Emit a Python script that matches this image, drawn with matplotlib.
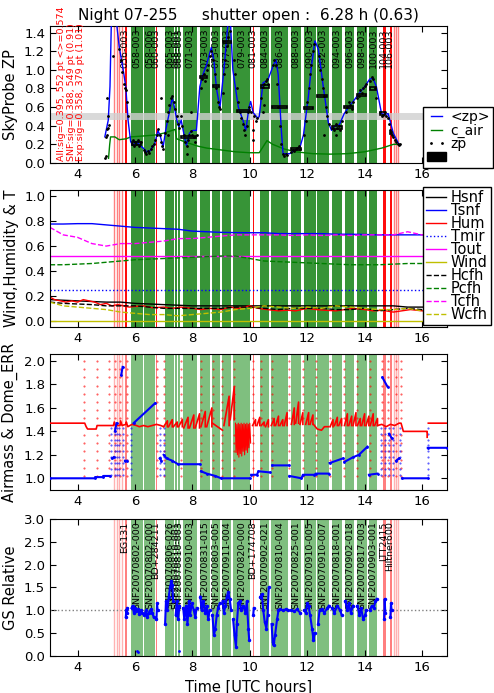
import numpy as np
import matplotlib.pyplot as plt
from matplotlib.lines import Line2D
from matplotlib.patches import Patch, Rectangle

nan = np.nan

# science exposures (UTC hours)
exp_start = [5.85, 6.32, 7.04, 7.41, 7.50, 7.66, 8.26, 8.69, 9.04, 9.42, 10.35, 10.74,
             11.42, 11.88, 12.35, 12.85, 13.31, 13.72, 14.16]
exp_end = [6.27, 6.69, 7.36, 7.47, 7.57, 8.17, 8.62, 8.98, 9.35, 10.00, 10.68, 11.34,
           11.80, 12.30, 12.77, 13.23, 13.64, 14.07, 14.44]
exp_names = ["058-003", "058-006", "065-003", "068-001", "068-003", "071-003", "073-003",
             "075-003", "077-003", "079-003", "084-003", "086-003", "088-003", "090-003",
             "092-003", "094-003", "096-003", "098-003", "100-003"]
exp_targets = ["SNF20070802-000", "SNF20070802-000", "SNF20070806-026", "SNF20070810-001",
               "SNF20070810-003", "SNF20070910-003", "SNF20070831-015", "SNF20070803-005",
               "SNF20070911-004", "SNF20070820-000", "SNF20070902-021", "SNF20070810-004",
               "SNF20070825-001", "SNF20070910-005", "SNF20070910-007", "SNF20070818-001",
               "SNF20070902-018", "SNF20070817-003", "SNF20070903-001"]

# standard stars
std_start = [5.64, 6.73, 10.10, 14.65, 14.88]
std_end = [5.73, 6.78, 10.16, 14.74, 14.94]
std_names = ["056-003", "060-003", "081-003", "104-003", "106-003"]
std_targets = ["EG131", "BD+284211", "BD+174708", "LTT2415", "Hiltner600"]
acq_times = [5.27, 5.36, 5.45, 5.54, 15.03, 15.10, 15.17]

# SkyProbe zero point
zpm_t = [4.95, 5.07, 5.13, 5.18, 5.36, 5.45, 5.59, 5.68, 5.76, 5.85, 5.92, 6.06, 6.17, 6.29,
         6.41, 6.52, 6.69, 6.80, 6.89, 6.98, 7.07, 7.19, 7.30, 7.38, 7.46, 7.53, 7.61, 7.70,
         7.79, 7.90, 8.02, 8.14, 8.26, 8.37, 8.49, 8.66, 8.75, 8.84, 8.96, 9.10, 9.24, 9.32,
         9.41, 9.60, 9.76, 9.86, 9.97, 10.03, 10.12, 10.28, 10.33, 10.46, 10.63, 10.81, 10.91,
         10.99, 11.10, 11.16, 11.39, 11.75, 11.87, 12.04, 12.15, 12.27, 12.39, 12.56, 12.74,
         12.85, 12.94, 13.12, 13.29, 13.47, 13.65, 13.82, 14.00, 14.18, 14.29, 14.41, 14.59,
         14.70, 14.82, 15.00, 15.18, 15.24]
zpm_v = [0.28, 0.46, 0.82, 1.55, 1.50, 1.25, 1.00, 0.82, 0.46, 0.23, 0.19, 0.23, 0.19, 0.16,
         0.12, 0.13, 0.21, 0.35, 0.28, 0.17, 0.35, 0.53, 0.70, 0.59, 0.46, 0.39, 0.46, 0.32,
         0.19, 0.32, 0.35, 0.35, 0.82, 0.95, 1.05, 1.24, 1.10, 0.80, 0.59, 1.00, 1.50, 1.55,
         1.00, 0.60, 0.46, 0.35, 0.59, 0.66, 0.54, 0.48, 0.50, 0.86, 0.89, 1.04, 1.11,
         0.95, 0.35, 0.10, 0.10, 0.17, 0.30, 0.71, 1.04, 1.31, 1.22, 0.82, 0.43,
         0.35, 0.39, 0.41, 0.53, 0.61, 0.68, 0.75, 0.82, 0.90, 0.91, 0.82, 0.53,
         0.52, 0.53, 0.32, 0.21, 0.19]

zp_t = [4.97, 4.99, 5.00, 5.02, 5.04, 5.06, 5.08, 5.05, 5.04, 5.25, 5.45, 5.50, 5.56, 5.62,
        5.66, 5.70, 5.73, 5.76, 5.88, 5.92, 5.95, 6.00, 6.05, 6.10, 6.15, 6.20, 6.30, 6.35,
        6.40, 6.45, 6.50, 6.55, 6.60, 6.65, 6.70, 6.78, 6.82, 6.88, 6.92, 6.95, 6.97, 6.89,
        7.05, 7.10, 7.15, 7.20, 7.25, 7.30, 7.35, 7.38, 7.15, 7.45, 7.50, 7.55, 7.60, 7.65,
        7.70, 7.75, 7.80, 7.85, 7.90, 7.95, 8.00, 8.05, 8.10, 8.15, 7.80, 7.95, 8.30, 8.35,
        8.40, 8.45, 8.50, 8.55, 8.60, 8.65, 8.72, 8.78, 8.83, 8.88, 8.92, 8.95, 9.05, 9.10,
        9.15, 9.20, 9.25, 9.30, 9.45, 9.50, 9.55, 9.60, 9.65, 9.70, 9.75, 9.80, 9.85, 9.90,
        9.95, 9.98, 10.05, 10.10, 10.12, 10.15, 10.20, 10.25, 10.40, 10.45, 10.50, 10.55,
        10.60, 10.65, 10.45, 10.50, 10.80, 10.85, 10.90, 10.95, 11.00, 11.05, 11.10, 11.15,
        11.20, 11.25, 11.30, 11.45, 11.50, 11.55, 11.60, 11.65, 11.70, 11.75, 11.90, 11.95,
        12.00, 12.05, 12.10, 12.15, 12.20, 12.25, 12.40, 12.45, 12.50, 12.55, 12.60, 12.65,
        12.70, 12.75, 12.60, 12.90, 12.95, 13.00, 13.05, 13.10, 13.15, 13.20, 13.00, 13.35,
        13.40, 13.45, 13.50, 13.55, 13.60, 13.75, 13.80, 13.85, 13.90, 13.95, 14.00, 14.05,
        14.20, 14.25, 14.30, 14.35, 14.40, 14.55, 14.60, 14.65, 14.70, 14.75, 14.80, 14.85,
        14.90, 14.95, 15.00, 15.05, 15.10, 15.15, 15.20, 15.22]
zp_v = [0.05, 0.08, 0.28, 0.30, 0.36, 0.38, 0.41, 0.50, 0.70, 1.15, 1.22, 1.10, 0.98, 0.85,
        0.80, 0.78, 0.65, 0.50, 0.20, 0.25, 0.18, 0.22, 0.20, 0.25, 0.18, 0.22, 0.14, 0.12,
        0.10, 0.13, 0.11, 0.15, 0.18, 0.20, 0.25, 0.30, 0.36, 0.30, 0.22, 0.18, 0.15, 0.70,
        0.32, 0.45, 0.55, 0.62, 0.70, 0.72, 0.65, 0.58, 0.30, 0.50, 0.42, 0.38, 0.50, 0.40,
        0.30, 0.22, 0.18, 0.25, 0.30, 0.34, 0.30, 0.28, 0.22, 0.30, 0.10, 0.55, 0.80, 0.90,
        0.95, 0.88, 1.00, 1.05, 1.15, 1.20, 1.10, 0.95, 0.80, 0.65, 0.60, 0.58, 0.75, 0.95,
        1.10, 1.25, 1.35, 1.42, 1.10, 0.95, 0.80, 0.65, 0.55, 0.48, 0.42, 0.35, 0.30, 0.40,
        0.55, 0.60, 0.55, 0.35, 0.25, 0.50, 0.45, 0.48, 0.70, 0.82, 0.85, 0.88,
        0.90, 0.85, 0.55, 0.62, 1.05, 1.10, 1.05, 0.85, 0.60, 0.40, 0.20, 0.10,
        0.08, 0.10, 0.09, 0.12, 0.14, 0.13, 0.15, 0.16, 0.18, 0.15, 0.30, 0.45,
        0.65, 0.80, 0.95, 1.05, 1.20, 1.28, 1.15, 1.00, 0.90, 0.80, 0.72, 0.60,
        0.50, 0.42, 0.30, 0.38, 0.35, 0.42, 0.38, 0.40, 0.35, 0.45, 0.30, 0.55,
        0.60, 0.65, 0.62, 0.58, 0.65, 0.70, 0.72, 0.78, 0.75, 0.80, 0.83, 0.85,
        0.88, 0.92, 0.90, 0.80, 0.70, 0.55, 0.50, 0.52, 0.55, 0.50, 0.48, 0.42,
        0.35, 0.30, 0.28, 0.25, 0.22, 0.20, 0.19, 0.20]

# per-exposure mean zp (t0, t1, value)
zpbar_t0 = [5.88, 7.62, 8.28, 8.72, 9.06, 9.55, 10.38, 10.78, 11.42, 11.90, 12.35, 12.88,
            13.30, 13.72, 14.18, 14.55, 14.88]
zpbar_t1 = [6.20, 8.14, 8.50, 8.92, 9.33, 10.00, 10.68, 11.30, 11.78, 12.20, 12.70, 13.20,
            13.60, 14.05, 14.40, 14.70, 14.95]
zpbar_v = [0.21, 0.28, 0.92, 0.83, 1.30, 0.56, 0.82, 0.60, 0.15, 0.59, 0.72, 0.38,
           0.60, 0.73, 0.80, 0.53, 0.32]

cair_t = [5.08, 5.12, 5.15, 5.30, 5.45, 5.70, 5.85, 6.30, 6.70, 7.00, 7.20, 7.40, 7.45, 7.80,
          8.20, 8.50, 9.00, 9.50, 10.00, 10.30, 10.33, 10.60, 10.80, 11.20, 11.60, 12.20,
          12.80, 13.40, 14.00, 14.60, 15.00, 15.22]
cair_v = [0.05, 0.20, 0.28, 0.28, 0.25, 0.26, 0.28, 0.29, 0.30, 0.32, 0.34, 0.36, 0.26, 0.22,
          0.18, 0.16, 0.14, 0.12, 0.11, 0.11, 0.11, 0.24, 0.20, 0.15, 0.12, 0.10,
          0.095, 0.10, 0.12, 0.16, 0.20, 0.20]

# weather
w_t = [3.04, 3.5, 4.0, 4.5, 5.0, 5.5, 6.0, 6.5, 7.0, 7.5, 8.0, 8.5, 9.0, 9.5, 10.0, 10.5,
       11.0, 11.5, 12.0, 12.5, 13.0, 13.5, 14.0, 14.5, 15.0, 15.5, 16.0, 16.3]
tsnf = [0.777, 0.777, 0.78, 0.78, 0.77, 0.76, 0.75, 0.745, 0.74, 0.735, 0.72, 0.715, 0.71,
        0.708, 0.707, 0.707, 0.70, 0.70, 0.70, 0.70, 0.695, 0.695, 0.693, 0.69, 0.69, 0.69,
        0.69, 0.69]
tcfh = [0.75, 0.69, 0.67, 0.62, 0.60, 0.62, 0.62, 0.63, 0.64, 0.66, 0.66, 0.67, 0.68, 0.69,
        0.69, 0.69, 0.69, 0.685, 0.69, 0.685, 0.69, 0.685, 0.69, 0.69, 0.69, 0.715, 0.69, 0.69]
pcfh = [0.45, 0.45, 0.455, 0.46, 0.47, 0.48, 0.49, 0.495, 0.50, 0.505, 0.51, 0.515, 0.52,
        0.52, 0.50, 0.48, 0.475, 0.47, 0.465, 0.46, 0.455, 0.45, 0.45, 0.45, 0.455, 0.46,
        0.46, 0.46]
hsnf = [0.17, 0.165, 0.16, 0.155, 0.15, 0.15, 0.14, 0.135, 0.13, 0.125, 0.12, 0.12, 0.12,
        0.12, 0.12, 0.12, 0.12, 0.12, 0.12, 0.12, 0.12, 0.12, 0.12, 0.12, 0.12, 0.11, 0.11, 0.11]
hum_t = [3.04, 3.2, 3.4, 3.6, 3.8, 4.0, 4.2, 4.4, 4.6, 4.8, 5.0, 5.2, 5.4, 5.6, 5.8, 6.0,
         6.3, 6.6, 7.0, 7.3, 7.6, 8.0, 8.3, 8.6, 9.0, 9.3, 9.6, 10.0, 10.3, 10.6, 11.0, 11.3,
         11.6, 12.0, 12.3, 12.6, 13.0, 13.3, 13.6, 14.0, 14.3, 14.6, 15.0, 15.3, 15.6, 16.0, 16.3]
hum = [0.19, 0.17, 0.16, 0.15, 0.16, 0.15, 0.17, 0.16, 0.15, 0.13, 0.14, 0.12, 0.13, 0.12,
       0.11, 0.115, 0.12, 0.105, 0.11, 0.10, 0.11, 0.10, 0.09, 0.10, 0.09, 0.11, 0.10,
       0.12, 0.10, 0.09, 0.08, 0.085, 0.08, 0.10, 0.09, 0.085, 0.08, 0.09, 0.10, 0.09,
       0.08, 0.085, 0.07, 0.08, 0.09, 0.08, 0.08]
hcfh = [0.15, 0.14, 0.135, 0.13, 0.12, 0.12, 0.12, 0.11, 0.10, 0.10, 0.10, 0.10, 0.10, 0.11,
        0.11, 0.10, 0.09, 0.10, 0.10, 0.10, 0.09, 0.09, 0.10, 0.08, 0.09, 0.10, 0.09, 0.09]
wcfh = [0.15, 0.12, 0.11, 0.10, 0.09, 0.07, 0.06, 0.05, 0.05, 0.04, 0.05, 0.06, 0.07, 0.09,
        0.10, 0.12, 0.11, 0.10, 0.11, 0.10, 0.12, 0.11, 0.10, 0.09, 0.09, 0.10, 0.08, 0.08]
flat_t = [3.04, 16.3]
tout = [0.52, 0.52]
tmir = [0.25, 0.25]
wind = [0.0, 0.0]

# airmass
air_t = [3.04, 4.60, 4.62, 4.88, 4.90, 5.12, nan, 5.20, 5.26, nan, 5.30, 5.36, nan, 5.52, 5.57,
         nan, 5.65, 5.73, nan, 5.95, 6.70, nan, 6.86, 6.92, nan, 7.00, 7.10, 7.30, 7.50, 8.25,
         nan, 8.30, 8.50, 8.80, 9.00, 10.00, nan, 10.05, 10.25, 10.30, 10.70, nan, 10.78,
         11.35, nan, 11.38, 11.80, 11.85, 12.25, 12.30, 12.75, nan, 12.78, 13.25, nan, 13.30,
         13.60, 13.80, 14.10, nan, 14.15, 14.45, nan, 14.62, 14.80, nan, 14.85, 14.95, nan,
         15.10, 15.20, nan, 15.30, 16.20, nan, 16.20, 16.87]
air_v = [1.00, 1.00, 1.01, 1.01, 1.02, 1.02, nan, 1.17, 1.18, nan, 1.40, 1.47, nan, 1.88, 1.95,
         nan, 1.15, 1.15, nan, 1.47, 1.64, nan, 1.17, 1.15, nan, 1.20, 1.17, 1.15, 1.12, 1.12,
         nan, 1.06, 1.04, 1.02, 1.00, 1.00, nan, 1.03, 1.03, 1.06, 1.05, nan, 1.11,
         1.11, nan, 1.02, 1.00, 1.03, 1.03, 1.04, 1.04, nan, 1.13, 1.17, nan, 1.14,
         1.18, 1.20, 1.27, nan, 1.03, 1.04, nan, 1.86, 1.78, nan, 1.38, 1.34, nan,
         1.15, 1.17, nan, 1.00, 1.00, nan, 1.26, 1.26]
blue_col_t = [5.18, 5.30, 5.38, 5.46, 5.60, 5.85, 6.86, 7.01, 14.58, 14.70, 14.84, 15.00,
              15.22, 16.20]
blue_levels = [1.03, 1.08, 1.13, 1.18, 1.23, 1.28, 1.33, 1.38, 1.43]

# dome error
dome_t = [3.04, 4.25, 4.30, 4.35, 4.65, 4.68, 5.15, 5.25, 5.28, 5.32, 5.48, 5.50, 5.55, 5.68,
          5.70, 5.75, 5.90, 6.05, 6.15, 6.30, 6.45, 6.60, 6.75, 6.90, 7.00, nan, 8.70, 9.05,
          nan, 12.22, 12.35, 12.50, 12.60, 12.75, nan, 14.45, 14.60, 14.75, 14.90, 15.05,
          15.20, 15.27, 15.35, 16.15, 16.18, 16.18, nan, 16.22, 16.87]
dome_v = [1.47, 1.47, 1.44, 1.42, 1.42, 1.45, 1.45, 1.45, 1.48, 1.45, 1.45, 1.49, 1.45, 1.46,
          1.48, 1.44, 1.46, 1.45, 1.44, 1.45, 1.44, 1.45, 1.46, 1.45, 1.44, nan, 1.47, 1.41,
          nan, 1.46, 1.42, 1.41, 1.44, 1.44, nan, 1.45, 1.46, 1.44, 1.46, 1.45,
          1.47, 1.47, 1.40, 1.40, 1.40, 1.35, nan, 1.47, 1.47]
tooth_t0 = [7.00, 7.17, 7.34, 7.52, 7.70, 7.90, 8.10, 8.30, 8.50, 9.10, 9.32, 10.10, 10.25,
            10.40, 10.55, 10.75, 10.90, 11.05, 11.20, 11.45, 11.60, 11.75, 11.95, 12.10, 12.80,
            12.95, 13.10, 13.30, 13.45, 13.60, 13.75, 13.90, 14.05, 14.20, 14.35]
tooth_t1 = [7.13, 7.30, 7.47, 7.65, 7.85, 8.05, 8.25, 8.45, 8.68, 9.28, 9.46, 10.20, 10.35,
            10.50, 10.65, 10.85, 11.00, 11.15, 11.30, 11.55, 11.70, 11.85, 12.05, 12.20, 12.90,
            13.05, 13.20, 13.40, 13.55, 13.70, 13.85, 14.00, 14.15, 14.30, 14.45]
tooth_lo = [1.44, 1.44, 1.44, 1.44, 1.43, 1.43, 1.43, 1.44, 1.44, 1.45, 1.50, 1.45, 1.45,
            1.45, 1.44, 1.45, 1.45, 1.45, 1.45, 1.46, 1.47, 1.46, 1.46, 1.46, 1.44,
            1.45, 1.45, 1.45, 1.45, 1.45, 1.45, 1.45, 1.45, 1.45, 1.45]
tooth_hi = [1.49, 1.50, 1.48, 1.50, 1.52, 1.54, 1.55, 1.57, 1.60, 1.70, 1.78, 1.50, 1.52,
            1.48, 1.50, 1.51, 1.53, 1.50, 1.56, 1.60, 1.65, 1.56, 1.56, 1.54, 1.50,
            1.52, 1.51, 1.55, 1.53, 1.56, 1.51, 1.55, 1.53, 1.55, 1.51]
zig_t = [9.50, 9.52, 9.55, 9.57, 9.60, 9.62, 9.65, 9.67, 9.70, 9.72, 9.75, 9.77, 9.80, 9.82,
         9.85, 9.87, 9.90, 9.92, 9.95, 9.97, 10.00, 10.03]
zig_v = [1.47, 1.22, 1.46, 1.20, 1.47, 1.18, 1.46, 1.21, 1.47, 1.19, 1.46, 1.23, 1.47, 1.20,
         1.46, 1.24, 1.47, 1.22, 1.46, 1.26, 1.47, 1.30]
red_col_t = [4.22, 4.67, 5.08, 5.30, 5.49, 5.72, 6.77, 7.02, 7.62, 8.29, 8.72, 9.02, 9.44,
             10.12, 10.38, 10.78, 11.38, 11.85, 12.32, 12.80, 13.30, 13.75, 14.18, 14.62,
             14.80, 15.10, 15.28]
red_levels = [1.02, 1.09, 1.16, 1.23, 1.30, 1.37, 1.51, 1.58, 1.65, 1.72, 1.79, 1.86, 1.93, 2.0]

# guide star relative flux
gs_t = [5.68, 5.70, 5.72, 5.74, nan,
        5.88, 5.92, 5.96, 6.00, 6.05, 6.10, 6.15, 6.20, 6.25, nan,
        6.33, 6.38, 6.43, 6.48, 6.55, 6.60, 6.65, nan, 6.75, 6.77, 6.79, nan,
        7.05, 7.08, 7.12, 7.18, 7.22, 7.27, 7.30, 7.33, nan, 7.42, 7.46, 7.50, 7.55, nan,
        7.68, 7.72, 7.78, 7.83, 7.88, 7.92, 7.98, 8.05, 8.10, 8.15, nan,
        8.28, 8.32, 8.38, 8.45, 8.50, 8.55, 8.60, nan, 8.70, 8.75, 8.80, 8.85, 8.90, 8.95, nan,
        9.05, 9.10, 9.15, 9.20, 9.25, 9.30, 9.35, nan,
        9.42, 9.47, 9.52, 9.55, 9.60, 9.65, 9.70, 9.78, 9.85, 9.90, 9.95, 9.98, nan,
        10.12, 10.14, nan, 10.37, 10.42, 10.47, 10.52, 10.58, 10.62, 10.66, nan,
        10.76, 10.80, 10.83, 10.88, 10.95, 11.00, 11.05, 11.15, 11.25, 11.32, nan,
        11.45, 11.55, 11.65, 11.75, nan,
        11.90, 11.95, 12.00, 12.05, 12.10, 12.17, 12.22, 12.26, nan,
        12.38, 12.43, 12.50, 12.60, 12.70, 12.75, nan, 12.88, 12.95, 13.05, 13.15, 13.20, nan,
        13.33, 13.40, 13.45, 13.52, 13.60, nan, 13.75, 13.82, 13.88, 13.95, 14.02, 14.06, nan,
        14.18, 14.25, 14.32, 14.38, 14.42, nan, 14.68, 14.70, 14.72, nan, 14.90, 14.92, 14.94]
gs_v = [0.85, 1.00, 0.95, 1.05, nan,
        1.05, 1.10, 0.95, 1.05, 0.98, 1.02, 0.92, 1.00, 0.95, nan,
        0.90, 1.00, 0.85, 0.95, 1.02, 0.95, 0.85, nan, 0.80, 1.15, 1.00, nan,
        0.70, 1.20, 1.00, 1.30, 1.50, 1.65, 1.55, 1.20, nan, 0.90, 1.20, 0.80, 1.10, nan,
        1.05, 0.80, 1.10, 0.70, 1.20, 0.90, 1.15, 1.00, 0.85, 1.05, nan,
        1.30, 1.00, 1.20, 0.95, 1.10, 0.80, 1.00, nan, 0.90, 0.45, 0.60, 0.90, 1.05, 1.15, nan,
        1.20, 0.95, 1.10, 1.30, 1.40, 1.25, 1.00, nan,
        0.80, 0.45, 0.20, 0.70, 1.15, 1.20, 1.00, 1.10, 0.95, 1.20, 0.60, 0.35, nan,
        0.90, 1.05, nan, 1.30, 1.35, 1.00, 0.75, 0.60, 0.90, 1.50, nan,
        0.70, 0.30, 0.23, 0.45, 0.80, 1.00, 1.02, 1.00, 1.02, 1.00, nan,
        1.00, 0.98, 1.02, 0.95, nan,
        1.00, 0.95, 1.15, 1.10, 0.90, 0.60, 0.35, 0.50, nan,
        0.70, 1.00, 1.02, 0.95, 1.05, 1.10, nan, 1.05, 0.95, 1.10, 1.00, 0.90, nan,
        1.20, 1.00, 1.15, 0.95, 1.10, nan, 1.10, 0.90, 1.05, 0.80, 0.90, 1.00, nan,
        1.00, 1.10, 1.05, 1.20, 1.25, nan, 0.80, 1.25, 0.95, nan, 0.85, 1.15, 1.00]
gs_low_t = [6.08, 6.12, 7.52]
gs_low_v = [0.12, 0.08, 0.12]

title = "Night 07-255     shutter open :  6.28 h (0.63)"
stats = "All:sig=0.395, 552 pt <>=0.574\nSNF:sig=0.388, 549 pt (0.91)\nExp:sig=0.358, 379 pt (1.01)"

plt.rcParams['xtick.direction'] = 'in'
plt.rcParams['ytick.direction'] = 'in'
plt.rcParams['xtick.top'] = True
plt.rcParams['ytick.right'] = True
plt.rcParams['xtick.labelsize'] = 9.5
plt.rcParams['ytick.labelsize'] = 9.5

fig = plt.figure(figsize=(4.94, 6.93), dpi=100)
L, W, H = 0.1012, 0.8036, 0.1977
ax1 = fig.add_axes([L, 0.7648, W, H])
ax2 = fig.add_axes([L, 0.5281, W, H])
ax3 = fig.add_axes([L, 0.2929, W, 0.1963])
ax4 = fig.add_axes([L, 0.0534, W, H])


def draw_bands(ax, green, red_alpha, faint_alpha):
    for s, e in zip(exp_start, exp_end):
        ax.axvspan(s, e, color=green, lw=0, zorder=0)
    for t in acq_times:
        ax.axvline(t, color='red', alpha=faint_alpha, lw=1, zorder=1)
    for s, e in zip(std_start, std_end):
        ax.axvspan(s, e, color='red', alpha=red_alpha, lw=0, zorder=1)


def label_bands(ax, names, snames, ytop):
    for s, e, n in zip(exp_start, exp_end, names):
        ax.text((s + e) / 2, ytop, n, rotation=90, ha='center', va='top', fontsize=6.8)
    for s, e, n in zip(std_start, std_end, snames):
        ax.text((s + e) / 2 - 0.03, ytop, n, rotation=90, ha='center', va='top', fontsize=6.8)


for ax in (ax1, ax2, ax3, ax4):
    ax.set_xlim(3.04, 16.87)
    ax.set_xticks([4, 6, 8, 10, 12, 14, 16])
    ax.tick_params(length=4)

# panel 1
draw_bands(ax1, '#379437', 0.95, 0.5)
ax1.axhline(0.5, color='#d0d0d0', lw=5, alpha=0.8, zorder=2)
ax1.plot(zpm_t, zpm_v, color='blue', lw=1, zorder=4)
ax1.plot(cair_t, cair_v, color='green', lw=1, zorder=3)
ax1.plot(zp_t, zp_v, '.', color='black', ms=2, zorder=5)
for t0, t1, v in zip(zpbar_t0, zpbar_t1, zpbar_v):
    ax1.add_patch(Rectangle((t0, v - 0.012), t1 - t0, 0.024, fill=False, ec='black', lw=1.2, zorder=5))
label_bands(ax1, exp_names, std_names, 1.44)
ax1.text(3.28, 0.02, stats, rotation=90, color='red', fontsize=6.8, ha='left', va='bottom',
         clip_on=False, linespacing=1.1)
ax1.set_ylim(0, 1.47)
ax1.set_yticks(np.arange(0, 1.41, 0.2))
ax1.set_ylabel("SkyProbe ZP", fontsize=10.5)
ax1.set_title(title, fontsize=11, pad=4)
h1 = [Line2D([], [], color='blue', lw=1), Line2D([], [], color='green', lw=1),
      Line2D([], [], color='black', marker='.', ls='none', ms=2),
      Patch(facecolor='black', edgecolor='black')]
ax1.legend(h1, ['<zp>', 'c_air', 'zp', ''], loc='upper left', bbox_to_anchor=(0.94, 0.41),
           borderaxespad=0, fontsize=10, handlelength=1.4, handletextpad=0.3, labelspacing=-0.05,
           borderpad=0.25, numpoints=2, fancybox=False, framealpha=1, edgecolor='black')

# panel 2
draw_bands(ax2, '#379437', 0.95, 0.5)
ax2.plot(w_t, hsnf, color='black', lw=1, label='Hsnf')
ax2.plot(w_t, tsnf, color='blue', lw=1, label='Tsnf')
ax2.plot(hum_t, hum, color='red', lw=1, label='Hum')
ax2.plot(flat_t, tmir, color='blue', ls=':', lw=1, label='Tmir')
ax2.plot(flat_t, tout, color='magenta', lw=1, label='Tout')
ax2.plot(flat_t, wind, color='y', lw=1, label='Wind')
ax2.plot(w_t, hcfh, color='black', ls='--', lw=1, label='Hcfh')
ax2.plot(w_t, pcfh, color='green', ls='--', lw=1, label='Pcfh')
ax2.plot(w_t, tcfh, color='magenta', ls='--', lw=1, label='Tcfh')
ax2.plot(w_t, wcfh, color='y', ls='--', lw=1, label='Wcfh')
ax2.set_ylim(-0.05, 1.05)
ax2.set_yticks(np.arange(0, 1.01, 0.2))
ax2.set_ylabel("Wind,Humidity & T", fontsize=10.5)
ax2.legend(loc='upper left', bbox_to_anchor=(0.94, 1.02), borderaxespad=0, fontsize=10.5,
           handlelength=1.4, handletextpad=0.3, labelspacing=-0.14, borderpad=0.2,
           fancybox=False, framealpha=1, edgecolor='black')

# panel 3
draw_bands(ax3, '#7fbf7f', 0.5, 0.3)
for t in red_col_t:
    ax3.plot([t] * len(red_levels), red_levels, '.', color='red', ms=1, alpha=0.7, zorder=3)
for t in blue_col_t:
    ax3.plot([t] * len(blue_levels), blue_levels, '.', color='blue', ms=1, alpha=0.7, zorder=3)
ax3.plot(dome_t, dome_v, color='red', lw=1.2, zorder=4)
for t0, t1, lo, hi in zip(tooth_t0, tooth_t1, tooth_lo, tooth_hi):
    ax3.plot([t0, t1, t1], [lo, hi, lo], color='red', lw=1.2, zorder=4)
ax3.plot(zig_t, zig_v, color='red', lw=0.8, zorder=4)
ax3.plot(air_t, air_v, color='blue', lw=1.5, marker='.', ms=2, zorder=5)
ax3.set_ylim(0.9, 2.06)
ax3.set_yticks(np.arange(1.0, 2.01, 0.2))
ax3.set_ylabel("Airmass & Dome_ERR", fontsize=10.5)

# panel 4
draw_bands(ax4, '#7fbf7f', 0.5, 0.3)
ax4.axhline(1.0, color='gray', ls=':', lw=1, zorder=2)
ax4.plot(gs_t, gs_v, color='blue', lw=1.5, marker='.', ms=3, zorder=4)
ax4.plot(gs_low_t, gs_low_v, '.', color='blue', ms=2, zorder=4)
label_bands(ax4, exp_targets, std_targets, 2.95)
ax4.set_ylim(0, 3)
ax4.set_yticks(np.arange(0, 3.01, 0.5))
ax4.set_ylabel("GS Relative", fontsize=10.5)
ax4.set_xlabel("Time [UTC hours]", fontsize=10.5)

fig.savefig("out.png", dpi=100)
